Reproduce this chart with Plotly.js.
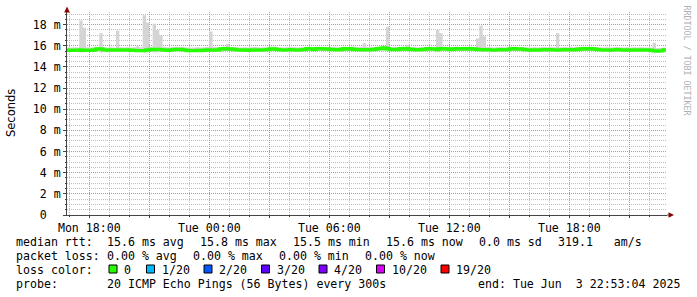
<!DOCTYPE html>
<html>
<head>
<meta charset="utf-8">
<script src="https://cdn.plot.ly/plotly-3.0.1.min.js"></script>
<style>html,body{margin:0;padding:0;background:#fff;}#chart{width:697px;height:297px;}</style>
</head>
<body>
<div id="chart"></div>
<script>
// ---------- data (10-minute steps starting 2025-06-02 16:50) ----------
var startTime = "2025-06-02 16:50:00";
var stepMinutes = 10;

var medianVals = [
15.58,15.58,15.57,15.58,15.60,15.58,15.57,15.58,15.60,15.70,
15.70,15.62,15.60,15.60,15.62,15.60,15.60,15.62,15.60,15.58,
15.57,15.55,15.55,15.55,15.60,15.66,15.65,15.65,15.64,15.60,
15.58,15.60,15.66,15.66,15.65,15.62,15.56,15.55,15.55,15.56,
15.56,15.58,15.60,15.60,15.62,15.60,15.70,15.72,15.70,15.70,
15.66,15.62,15.60,15.60,15.58,15.60,15.62,15.60,15.60,15.62,
15.64,15.70,15.70,15.64,15.62,15.60,15.62,15.64,15.62,15.60,
15.62,15.64,15.72,15.70,15.66,15.72,15.72,15.70,15.70,15.66,
15.64,15.62,15.66,15.72,15.70,15.72,15.66,15.64,15.62,15.64,
15.62,15.64,15.66,15.72,15.75,15.80,15.72,15.66,15.64,15.66,
15.72,15.70,15.72,15.66,15.64,15.62,15.64,15.66,15.72,15.70,
15.70,15.66,15.72,15.72,15.70,15.66,15.70,15.72,15.70,15.72,
15.70,15.72,15.70,15.66,15.64,15.62,15.64,15.62,15.60,15.62,
15.64,15.62,15.64,15.70,15.72,15.70,15.70,15.64,15.62,15.60,
15.62,15.60,15.62,15.64,15.62,15.64,15.62,15.60,15.62,15.64,
15.62,15.64,15.62,15.66,15.70,15.72,15.70,15.72,15.70,15.64,
15.62,15.60,15.62,15.60,15.62,15.64,15.62,15.60,15.62,15.60,
15.62,15.60,15.62,15.60,15.60,15.58,15.52,15.50,15.52,15.60,
15.60
];

var smokeMax = [
15.85,15.85,15.86,15.85,18.40,17.70,15.86,15.85,15.86,15.90,
17.20,15.88,15.85,15.86,15.85,17.45,15.86,15.85,15.86,15.85,
15.86,15.95,15.86,18.90,18.20,15.90,18.10,17.50,17.00,15.88,
15.86,15.85,15.88,15.90,15.88,15.86,15.85,15.84,15.85,15.86,
15.85,15.86,15.88,17.35,15.88,15.86,15.90,15.92,16.20,15.90,
15.88,15.86,15.85,15.86,15.85,15.86,15.88,15.86,15.85,15.86,
15.88,15.90,15.92,15.88,15.86,15.85,15.86,15.88,15.86,15.85,
15.86,15.88,15.92,15.90,15.88,15.92,15.92,15.90,15.90,15.88,
15.88,15.86,15.88,15.92,15.90,15.92,15.88,15.88,15.92,16.25,
15.88,15.88,15.90,15.92,15.95,15.98,17.80,15.90,15.88,15.90,
15.92,15.92,16.10,15.90,15.88,15.86,15.88,15.90,15.92,15.92,
15.92,17.50,17.20,15.92,15.92,15.90,15.92,15.92,15.90,15.92,
15.92,15.92,15.90,16.70,17.90,16.90,15.88,15.86,15.85,15.86,
15.88,15.86,15.88,15.92,15.92,15.92,15.90,15.88,15.86,15.85,
15.86,15.85,15.86,15.88,15.86,15.88,15.86,17.20,15.86,15.88,
15.86,15.88,15.86,15.88,15.92,15.92,15.92,15.92,15.90,15.88,
15.86,15.85,15.86,15.85,15.86,15.88,15.86,15.85,15.86,15.85,
15.86,15.85,15.86,15.85,15.85,15.84,16.30,15.80,15.80,15.85,
15.85
];

var smokeMin = [
15.47,15.47,15.46,15.47,15.38,15.40,15.47,15.46,15.47,15.50,
15.38,15.48,15.47,15.47,15.48,15.42,15.47,15.48,15.47,15.46,
15.46,15.44,15.44,15.38,15.40,15.42,15.38,15.40,15.42,15.48,
15.46,15.47,15.50,15.50,15.48,15.47,15.44,15.44,15.44,15.45,
15.45,15.46,15.47,15.44,15.48,15.47,15.52,15.54,15.50,15.52,
15.50,15.48,15.47,15.47,15.46,15.47,15.48,15.47,15.47,15.48,
15.50,15.52,15.52,15.50,15.48,15.47,15.48,15.50,15.48,15.47,
15.48,15.50,15.54,15.52,15.50,15.54,15.54,15.52,15.52,15.50,
15.50,15.48,15.50,15.54,15.52,15.54,15.50,15.50,15.48,15.50,
15.48,15.50,15.50,15.54,15.56,15.58,15.50,15.50,15.50,15.50,
15.54,15.52,15.50,15.50,15.50,15.48,15.50,15.50,15.54,15.52,
15.52,15.46,15.50,15.54,15.52,15.50,15.52,15.54,15.52,15.54,
15.52,15.54,15.52,15.48,15.46,15.46,15.48,15.47,15.47,15.48,
15.50,15.48,15.50,15.52,15.54,15.52,15.52,15.50,15.48,15.47,
15.48,15.47,15.48,15.50,15.48,15.50,15.48,15.44,15.48,15.50,
15.48,15.50,15.48,15.50,15.52,15.54,15.52,15.54,15.52,15.50,
15.48,15.47,15.48,15.47,15.48,15.50,15.48,15.47,15.48,15.47,
15.48,15.47,15.48,15.47,15.47,15.46,15.40,15.38,15.40,15.47,
15.47
];

var xTickVals = ["2025-06-02 18:00","2025-06-02 21:00","2025-06-03 00:00","2025-06-03 03:00",
                 "2025-06-03 06:00","2025-06-03 09:00","2025-06-03 12:00","2025-06-03 15:00",
                 "2025-06-03 18:00","2025-06-03 21:00"];
var xTickText = ["Mon 18:00","","Tue 00:00","","Tue 06:00","","Tue 12:00","","Tue 18:00",""];
var yTickVals = [0,2,4,6,8,10,12,14,16,18];
var yTickText = ["0\u00a0\u00a0","2 m","4 m","6 m","8 m","10 m","12 m","14 m","16 m","18 m"];
var xRange = ["2025-06-02 16:53:04","2025-06-03 22:53:04"];

var yTitle = "Seconds";
var watermark = "RRDTOOL / TOBI OETIKER";

var rttLabel = "median rtt:";
var rttStats = ["15.6 ms avg","15.8 ms max","15.5 ms min","15.6 ms now","0.0 ms sd","319.1\u00a0\u00a0\u00a0am/s"];
var lossLabel = "packet loss:";
var lossStats = ["0.00 % avg","0.00 % max","0.00 % min","0.00 % now"];
var colorLabel = "loss color:";
var lossCats = ["0","1/20","2/20","3/20","4/20","10/20","19/20"];
var lossColors = ["#26ff00","#00b8ff","#0059ff","#5e00ff","#7e00ff","#dd00ff","#ff0000"];
var probeLabel = "probe:";
var probeText = "20 ICMP Echo Pings (56 Bytes) every 300s";
var endText = "end: Tue Jun\u00a0\u00a03 22:53:04 2025";

// ---------- build ----------
function timeAt(i){
  var p = startTime.split(/[- :]/).map(Number);
  var d = new Date(Date.UTC(p[0],p[1]-1,p[2],p[3],p[4],p[5]) + i*stepMinutes*60000);
  return d.toISOString().slice(0,19).replace('T',' ');
}
var times = medianVals.map(function(_,i){return timeAt(i);});

var L=67, R=667, T=12, B=215;
function px(x){return (x-L)/(R-L);}
function py(y){return (B-y)/(B-T);}

var mono = "DejaVu Sans Mono";
var traces = [
  {x:times, y:smokeMin, type:'scatter', mode:'lines', line:{width:0, shape:'hv'}, hoverinfo:'skip', showlegend:false},
  {x:times, y:smokeMax, type:'scatter', mode:'lines', fill:'tonexty', fillcolor:'#d4d4d4', line:{width:0, shape:'hv'}, hoverinfo:'skip', showlegend:false},
  {x:times, y:medianVals, type:'scatter', mode:'lines', line:{width:3.4, color:lossColors[0], shape:'hv'}, showlegend:false}
];

var annotations = [];
function txt(s, x, y, opts){
  var a = {text:s, xref:'paper', yref:'paper', x:px(x), y:py(y), xanchor:'left', yanchor:'middle',
           showarrow:false, borderpad:0, borderwidth:0, font:{family:mono, size:11.6, color:'#000'}};
  if(opts){ for(var k in opts){ a[k]=opts[k]; } }
  annotations.push(a);
}
var rowY = [242, 256, 270, 284];
txt(rttLabel, 16, rowY[0]);
var rttX = [107,200,293,386,479,558];
rttStats.forEach(function(s,i){ txt(s, rttX[i], rowY[0]); });
txt(lossLabel, 16, rowY[1]);
var lossX = [107,193,279,365];
lossStats.forEach(function(s,i){ txt(s, lossX[i], rowY[1]); });
txt(colorLabel, 16, rowY[2]);
var sqX = [109,146.5,204,261.5,319,376.5,441];
var shapes = [];
lossCats.forEach(function(s,i){
  shapes.push({type:'rect', xref:'paper', yref:'paper', x0:px(sqX[i]), x1:px(sqX[i]+8), y0:py(273), y1:py(265),
               fillcolor:lossColors[i], line:{color:'#000', width:1}});
  txt(s, sqX[i]+15, rowY[2]);
});
txt(probeLabel, 16, rowY[3]);
txt(probeText, 107, rowY[3]);
txt(endText, 478, rowY[3]);

// y title
annotations.push({text:yTitle, xref:'paper', yref:'paper', x:px(11), y:py(113), xanchor:'center', yanchor:'middle',
  textangle:-90, showarrow:false, font:{family:'DejaVu Sans', size:11.5, color:'#000'}});
// watermark
annotations.push({text:watermark, xref:'paper', yref:'paper', x:px(686.5), y:py(60), xanchor:'center', yanchor:'middle',
  textangle:90, showarrow:false, font:{family:mono, size:8.3, color:'#b0b0b0'}});

// arrows
shapes.push({type:'path', xref:'paper', yref:'paper', fillcolor:'#8b0000', line:{width:0},
  path:'M '+px(67)+' '+py(6.5)+' L '+px(64.2)+' '+py(12.5)+' L '+px(69.8)+' '+py(12.5)+' Z'});
shapes.push({type:'path', xref:'paper', yref:'paper', fillcolor:'#8b0000', line:{width:0},
  path:'M '+px(674)+' '+py(215)+' L '+px(668.5)+' '+py(212.2)+' L '+px(668.5)+' '+py(217.8)+' Z'});
// x-axis extension to arrow
shapes.push({type:'line', xref:'paper', yref:'paper', x0:px(667), x1:px(669), y0:0, y1:0, line:{color:'#444', width:1}});

var majorGrid = 'rgba(240,110,110,0.75)';
var minorGrid = 'rgba(170,170,170,0.75)';
var layout = {
  width:697, height:297,
  margin:{l:L, r:697-R, t:T, b:297-B, pad:0},
  paper_bgcolor:'#fff', plot_bgcolor:'#fff',
  showlegend:false,
  xaxis:{type:'date', range:xRange, tickmode:'array', tickvals:xTickVals, ticktext:xTickText,
         showgrid:true, gridcolor:majorGrid, griddash:'1px,1px', gridwidth:1,
         showline:true, linecolor:'#444', linewidth:1, ticks:'outside', ticklen:2, tickcolor:'#444',
         zeroline:false, tickfont:{family:mono, size:11.6, color:'#000'},
         minor:{dtick:3600000, tick0:'2025-06-02 17:00', showgrid:true, gridcolor:minorGrid, griddash:'1px,1px', gridwidth:1, ticks:'outside', ticklen:1, tickcolor:'#444'}},
  yaxis:{range:[0,19.2], tickmode:'array', tickvals:yTickVals, ticktext:yTickText,
         showgrid:true, gridcolor:majorGrid, griddash:'1px,1px', gridwidth:1,
         showline:true, linecolor:'#444', linewidth:1, ticks:'outside', ticklen:3, tickcolor:'#444',
         zeroline:false, tickfont:{family:mono, size:11.6, color:'#000'},
         minor:{dtick:0.5, tick0:0, showgrid:true, gridcolor:minorGrid, griddash:'1px,1px', gridwidth:1, ticks:'outside', ticklen:1, tickcolor:'#444'}},
  annotations:annotations,
  shapes:shapes
};
Plotly.newPlot('chart', traces, layout, {staticPlot:true, displayModeBar:false});
</script>
</body>
</html>
